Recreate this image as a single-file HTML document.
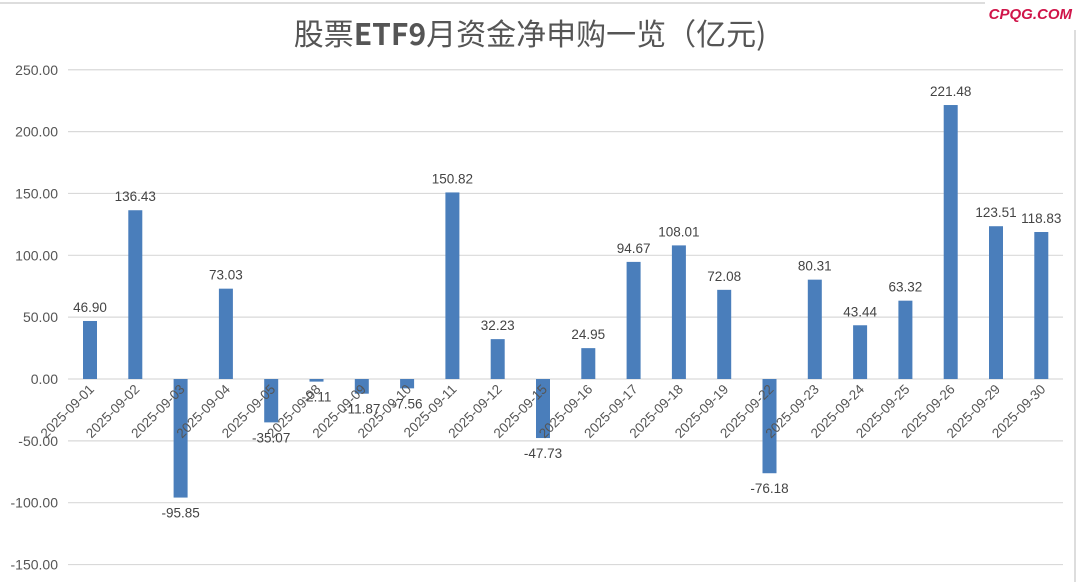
<!DOCTYPE html>
<html><head><meta charset="utf-8"><style>
html,body{margin:0;padding:0;background:#fff;}
svg{display:block;font-family:"Liberation Sans","Noto Sans CJK SC",sans-serif;}
</style></head><body>
<svg width="1080" height="582" viewBox="0 0 1080 582">
<rect width="1080" height="582" fill="#fff"/>
<line x1="0" y1="3" x2="985" y2="3" stroke="#ddd" stroke-width="2"/>
<line x1="1075" y1="30" x2="1075" y2="582" stroke="#ddd" stroke-width="2"/>
<text x="530" y="45" text-anchor="middle" font-size="30" fill="#555" font-family="'Noto Sans CJK SC',sans-serif">股票<tspan font-weight="bold">ETF9</tspan>月资金净申购一览（亿元)</text>
<text x="1072" y="19" text-anchor="end" font-size="15" font-style="italic" font-weight="bold" fill="#d0154a">CPQG.COM</text>
<g id="grid" stroke="#d9d9d9" stroke-width="1.2"></g>
<g id="ylab" font-size="14" fill="#555" text-anchor="end"></g>
<g id="bars" fill="#4a7ebb"></g>
<g id="vals" font-size="13.5" fill="#444" text-anchor="middle"></g>
<g id="xlab" font-size="13.5" fill="#555" text-anchor="end"></g>
<script>
var ns="http://www.w3.org/2000/svg";
function el(p,t,a,txt){var e=document.createElementNS(ns,t);for(var k in a)e.setAttribute(k,a[k]);if(txt!=null)e.textContent=txt;document.getElementById(p).appendChild(e);}
var z=379,s=1.237;
for(var v=250;v>=-150;v-=50){var y=z-v*s;el("grid","line",{x1:68,x2:1063,y1:y,y2:y});el("ylab","text",{x:58,y:y+5},v.toFixed(2));}
var d=["01","02","03","04","05","08","09","10","11","12","15","16","17","18","19","22","23","24","25","26","29","30"];
var vals=[46.90,136.43,-95.85,73.03,-35.07,-2.11,-11.87,-7.56,150.82,32.23,-47.73,24.95,94.67,108.01,72.08,-76.18,80.31,43.44,63.32,221.48,123.51,118.83];
for(var i=0;i<22;i++){var cx=90+45.3*i,v=vals[i],h=Math.abs(v)*s;
el("bars","rect",{x:cx-7,y:v>=0?z-h:z,width:14,height:h});
el("vals","text",{x:cx,y:v>=0?z-h-9:z+h+20},v.toFixed(2));
el("xlab","text",{x:cx+5,y:z+11,transform:"rotate(-45 "+(cx+5)+" "+(z+11)+")"},"2025-09-"+d[i]);}
</script>
</svg>
</body></html>
